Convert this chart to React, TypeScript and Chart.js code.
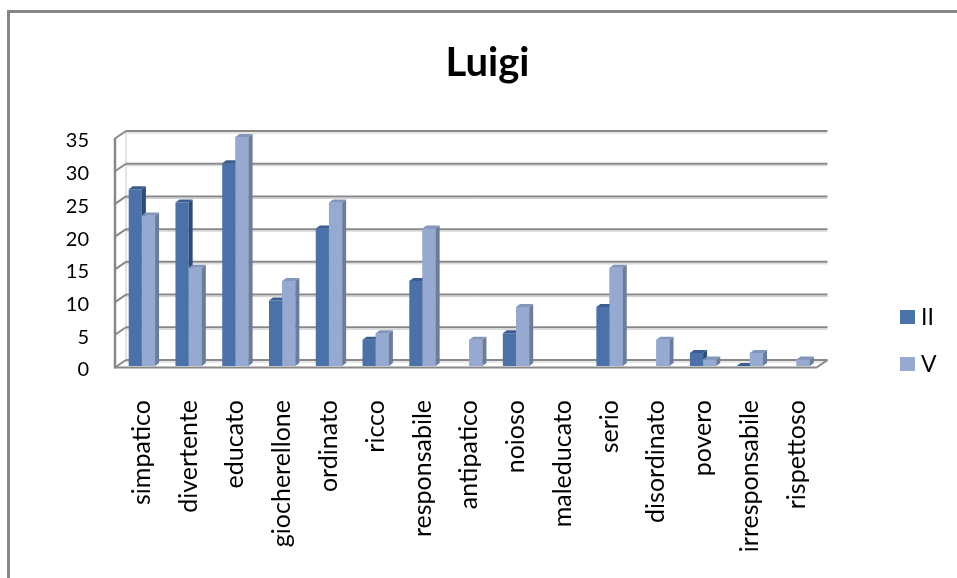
import React, { useEffect, useRef } from 'react';
import { Chart, registerables } from 'chart.js';

Chart.register(...registerables);

const chartTitle = 'Luigi';
const categories = [
  'simpatico', 'divertente', 'educato', 'giocherellone', 'ordinato', 'ricco',
  'responsabile', 'antipatico', 'noioso', 'maleducato', 'serio', 'disordinato',
  'povero', 'irresponsabile', 'rispettoso',
];
const seriesLabels = ['II', 'V'];
const seriesII: (number | null)[] = [27, 25, 31, 10, 21, 4, 13, null, 5, null, 9, null, 2, 0, null];
const seriesV: (number | null)[] = [23, 15, 35, 13, 25, 5, 21, 4, 9, null, 15, 4, 1, 2, 1];
const yMin = 0;
const yMax = 35;
const yStep = 5;

const frontColors = ['#4A72A8', '#95A9D1'];
const sideColors = ['#2C4C78', '#6C7C9B'];
const topColors = ['#3A5E8F', '#8296BD'];

const DX = 11;
const DY = -6;
const BAR_DX = 4;
const BAR_DY = -3;

function drawFaces(chart: any, dsIndex: number) {
  const ctx = chart.ctx;
  const meta = chart.getDatasetMeta(dsIndex);
  const values = chart.data.datasets[dsIndex].data;
  meta.data.forEach((el: any, i: number) => {
    if (values[i] === null || values[i] === undefined) return;
    const p = el.getProps(['x', 'y', 'base', 'width'], true);
    if (!isFinite(p.y) || !isFinite(p.base)) return;
    const l = p.x - p.width / 2;
    const r = p.x + p.width / 2;
    ctx.fillStyle = sideColors[dsIndex];
    ctx.beginPath();
    ctx.moveTo(r, p.y);
    ctx.lineTo(r + BAR_DX, p.y + BAR_DY);
    ctx.lineTo(r + BAR_DX, p.base + BAR_DY);
    ctx.lineTo(r, p.base);
    ctx.closePath();
    ctx.fill();
    ctx.fillStyle = topColors[dsIndex];
    ctx.beginPath();
    ctx.moveTo(l, p.y);
    ctx.lineTo(l + BAR_DX, p.y + BAR_DY);
    ctx.lineTo(r + BAR_DX, p.y + BAR_DY);
    ctx.lineTo(r, p.y);
    ctx.closePath();
    ctx.fill();
  });
}

const depthPlugin = {
  id: 'depth3d',
  beforeDraw(chart: any) {
    const ctx = chart.ctx;
    ctx.save();
    ctx.fillStyle = '#ffffff';
    ctx.fillRect(0, 0, chart.width, chart.height);
    ctx.strokeStyle = '#878787';
    ctx.lineWidth = 3;
    ctx.beginPath();
    ctx.moveTo(8.5, chart.height);
    ctx.lineTo(8.5, 11.5);
    ctx.lineTo(chart.width, 11.5);
    ctx.stroke();
    ctx.restore();
  },
  beforeDatasetsDraw(chart: any) {
    const ctx = chart.ctx;
    const ca = chart.chartArea;
    const y = chart.scales.y;
    const L = ca.left - 3.5;
    const R = ca.right - 3.5;
    const yTop = y.getPixelForValue(yMax);
    const y0 = y.getPixelForValue(yMin);
    ctx.save();
    ctx.strokeStyle = '#c9c9c9';
    ctx.lineWidth = 1;
    ctx.beginPath();
    ctx.moveTo(L + DX, yTop + DY);
    ctx.lineTo(L + DX, y0 + DY);
    ctx.stroke();
    y.ticks.forEach((t: any) => {
      const yf = y.getPixelForValue(t.value) + 1.5;
      const yb = y.getPixelForValue(t.value) + DY;
      ctx.strokeStyle = '#d0d0d0';
      ctx.lineWidth = 1;
      ctx.beginPath();
      ctx.moveTo(L + DX, yb + 2);
      ctx.lineTo(R + DX, yb + 2);
      ctx.stroke();
      ctx.strokeStyle = '#888888';
      ctx.lineWidth = 2;
      ctx.beginPath();
      ctx.moveTo(L + DX, yb);
      ctx.lineTo(R + DX, yb);
      ctx.stroke();
      ctx.beginPath();
      ctx.moveTo(L, yf);
      ctx.lineTo(L + DX, yb);
      ctx.stroke();
    });
    ctx.strokeStyle = '#888888';
    ctx.lineWidth = 2.5;
    ctx.beginPath();
    ctx.moveTo(L, yTop + 1);
    ctx.lineTo(L, y0 + 2.5);
    ctx.stroke();
    ctx.lineWidth = 2;
    ctx.beginPath();
    ctx.moveTo(L, y0 + 1.5);
    ctx.lineTo(R, y0 + 1.5);
    ctx.lineTo(R + DX, y0 + DY);
    ctx.stroke();
    ctx.restore();
  },
  afterDatasetsDraw(chart: any) {
    const ctx = chart.ctx;
    ctx.save();
    // series II: side and top faces
    drawFaces(chart, 0);
    // series V: redraw its front faces on top, then its own faces
    const metaV = chart.getDatasetMeta(1);
    const valsV = chart.data.datasets[1].data;
    metaV.data.forEach((el: any, i: number) => {
      if (valsV[i] === null || valsV[i] === undefined) return;
      el.draw(ctx, chart.chartArea);
    });
    drawFaces(chart, 1);
    ctx.restore();
  },
  afterDraw(chart: any) {
    const ctx = chart.ctx;
    const ca = chart.chartArea;
    const bx = ca.right + 80;
    const ys = [317, 364];
    ctx.save();
    ctx.font = '23px Lato';
    ctx.textBaseline = 'middle';
    ctx.textAlign = 'left';
    chart.data.datasets.forEach((ds: any, i: number) => {
      ctx.fillStyle = ds.backgroundColor;
      ctx.fillRect(bx, ys[i] - 7, 15, 14);
      ctx.fillStyle = '#000000';
      ctx.fillText(ds.label, bx + 21, ys[i] + 1);
    });
    ctx.restore();
  },
};

export default function App() {
  const ref = useRef<HTMLCanvasElement | null>(null);
  useEffect(() => {
    if (!ref.current) return;
    Chart.defaults.font.family = 'Lato';
    const chart = new Chart(ref.current, {
      type: 'bar',
      data: {
        labels: categories,
        datasets: [
          { label: seriesLabels[0], data: seriesII, backgroundColor: frontColors[0], barPercentage: 1, categoryPercentage: 0.564 },
          { label: seriesLabels[1], data: seriesV, backgroundColor: frontColors[1], barPercentage: 1, categoryPercentage: 0.564 },
        ],
      },
      options: {
        responsive: false,
        animation: false,
        layout: { padding: { left: 18, right: 0, top: 0, bottom: 0 } },
        plugins: {
          legend: { display: false },
          tooltip: { enabled: false },
          title: {
            display: true,
            text: chartTitle,
            color: '#000000',
            font: { family: 'Lato', size: 40, weight: 'bold', lineHeight: 1.2 },
            padding: { top: 39, bottom: 50 },
          },
        },
        scales: {
          x: {
            grid: { display: false, drawTicks: false },
            border: { display: false },
            ticks: {
              autoSkip: false,
              maxRotation: 90,
              minRotation: 90,
              padding: 34,
              color: '#000000',
              font: { family: 'Lato', size: 25 },
            },
            afterFit: (s: any) => { s.height = 212; },
          },
          y: {
            min: yMin,
            max: yMax,
            grid: { display: false, drawTicks: false },
            border: { display: false },
            ticks: {
              stepSize: yStep,
              padding: 29.5,
              labelOffset: 4,
              color: '#000000',
              font: { family: 'Lato', size: 20 },
            },
            afterFit: (s: any) => { s.width = 100.5; },
          },
          yRight: {
            type: 'linear',
            position: 'right',
            grid: { display: false, drawTicks: false },
            border: { display: false },
            ticks: { display: false },
            afterFit: (s: any) => { s.width = 137; },
          },
        },
      },
      plugins: [depthPlugin],
    } as any);
    return () => chart.destroy();
  }, []);
  return (
    <div style={{ position: 'absolute', left: 0, top: 0, width: 957, height: 578 }}>
      <canvas ref={ref} width={957} height={578} />
    </div>
  );
}
